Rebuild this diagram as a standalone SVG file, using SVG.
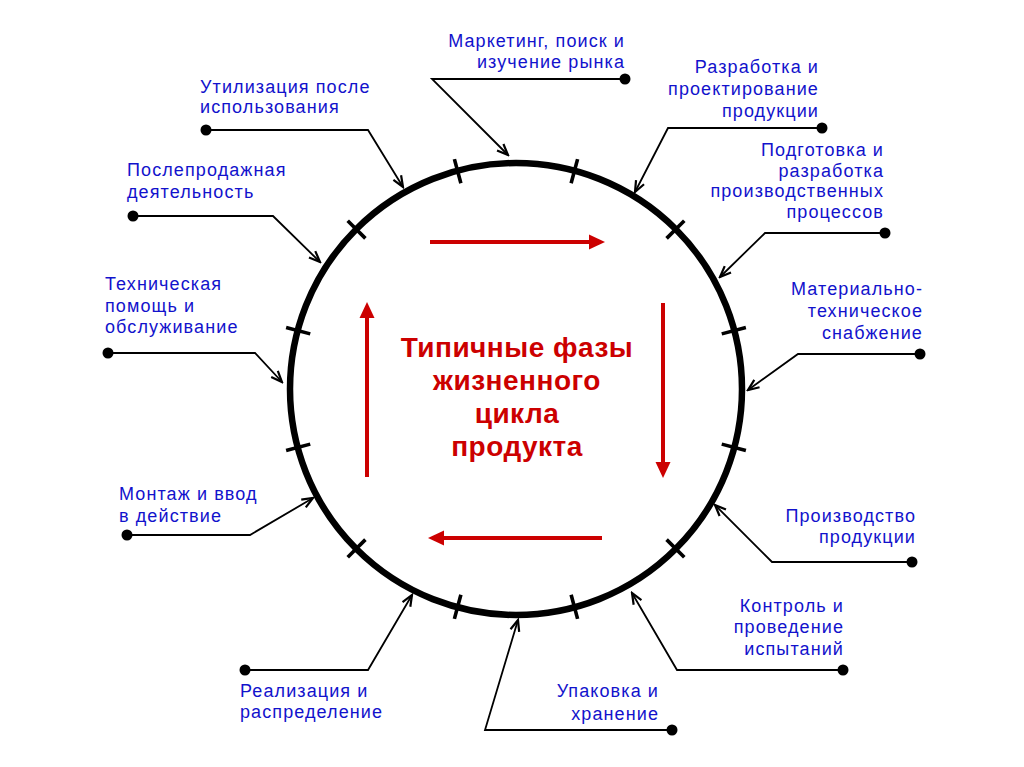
<svg xmlns="http://www.w3.org/2000/svg" width="1024" height="767" viewBox="0 0 1024 767">
<defs>
<style>
.lbl{font-family:"Liberation Sans",Arial,sans-serif;font-size:18px;fill:#1212cc;letter-spacing:1.1px}
.r{text-anchor:end}
.con{fill:none;stroke:#000;stroke-width:1.8;marker-end:url(#ah)}
.dot{fill:#000}
.tick{stroke:#000;stroke-width:3.6}
.title{font-family:"Liberation Sans",Arial,sans-serif;font-weight:bold;font-size:28px;fill:#cc0000;text-anchor:middle;letter-spacing:0.5px}
.red{stroke:#cc0000;stroke-width:4;fill:none}
</style>
<marker id="ah" markerWidth="14" markerHeight="12" refX="12" refY="6" orient="auto" markerUnits="userSpaceOnUse">
<path d="M1,1.5 L12,6 L1,10.5" fill="none" stroke="#000" stroke-width="2.2"/>
</marker>
</defs>
<rect width="1024" height="767" fill="#fff"/>

<g id="cycle">
<circle cx="516" cy="389" r="226" fill="none" stroke="#000" stroke-width="6.5"/>
<g id="ticks">
<line class="tick" x1="516" y1="151" x2="516" y2="176" transform="rotate(15 516 389)"/>
<line class="tick" x1="516" y1="151" x2="516" y2="176" transform="rotate(45 516 389)"/>
<line class="tick" x1="516" y1="151" x2="516" y2="176" transform="rotate(75 516 389)"/>
<line class="tick" x1="516" y1="151" x2="516" y2="176" transform="rotate(105 516 389)"/>
<line class="tick" x1="516" y1="151" x2="516" y2="176" transform="rotate(135 516 389)"/>
<line class="tick" x1="516" y1="151" x2="516" y2="176" transform="rotate(165 516 389)"/>
<line class="tick" x1="516" y1="151" x2="516" y2="176" transform="rotate(-15 516 389)"/>
<line class="tick" x1="516" y1="151" x2="516" y2="176" transform="rotate(-45 516 389)"/>
<line class="tick" x1="516" y1="151" x2="516" y2="176" transform="rotate(-75 516 389)"/>
<line class="tick" x1="516" y1="151" x2="516" y2="176" transform="rotate(-105 516 389)"/>
<line class="tick" x1="516" y1="151" x2="516" y2="176" transform="rotate(-135 516 389)"/>
<line class="tick" x1="516" y1="151" x2="516" y2="176" transform="rotate(-165 516 389)"/>
</g>
</g>

<g id="center">
<line class="red" x1="430" y1="242" x2="592" y2="242"/>
<polygon points="589,234.5 605,242 589,249.5" fill="#cc0000"/>
<line class="red" x1="663" y1="303" x2="663" y2="465"/>
<polygon points="655.5,462 663,478 670.5,462" fill="#cc0000"/>
<line class="red" x1="602" y1="538" x2="440" y2="538"/>
<polygon points="444,530.5 428,538 444,545.5" fill="#cc0000"/>
<line class="red" x1="367" y1="477" x2="367" y2="314"/>
<polygon points="359.5,318 367,302 374.5,318" fill="#cc0000"/>
<text class="title" x="517" y="357">Типичные фазы</text>
<text class="title" x="517" y="390">жизненного</text>
<text class="title" x="517" y="423">цикла</text>
<text class="title" x="517" y="456">продукта</text>
</g>

<g id="connectors">
<polyline class="con" points="625,79 432,79 508,155"/>
<polyline class="con" points="822,128 668,128 635,192"/>
<polyline class="con" points="885,233 765,233 720,277"/>
<polyline class="con" points="920,354 798,354 748,390"/>
<polyline class="con" points="912,562 772,562 715,505"/>
<polyline class="con" points="843,670 677,670 632,593"/>
<polyline class="con" points="672,730 485,730 518,620"/>
<polyline class="con" points="245,670 368,670 412,595"/>
<polyline class="con" points="127,535 250,535 313,498"/>
<polyline class="con" points="108,353 255,353 282,382"/>
<polyline class="con" points="133,216 273,216 320,262"/>
<polyline class="con" points="206,130 368,130 403,187"/>
<g id="dots">
<circle class="dot" cx="625" cy="79" r="5.5"/>
<circle class="dot" cx="822" cy="128" r="5.5"/>
<circle class="dot" cx="885" cy="233" r="5.5"/>
<circle class="dot" cx="920" cy="354" r="5.5"/>
<circle class="dot" cx="912" cy="562" r="5.5"/>
<circle class="dot" cx="843" cy="670" r="5.5"/>
<circle class="dot" cx="672" cy="730" r="5.5"/>
<circle class="dot" cx="245" cy="670" r="5.5"/>
<circle class="dot" cx="127" cy="535" r="5.5"/>
<circle class="dot" cx="108" cy="353" r="5.5"/>
<circle class="dot" cx="133" cy="216" r="5.5"/>
<circle class="dot" cx="206" cy="130" r="5.5"/>
</g>
</g>

<g id="n1"><text class="lbl r" x="625" y="47">Маркетинг, поиск и</text><text class="lbl r" x="625" y="68">изучение рынка</text></g>
<g id="n2"><text class="lbl r" x="819" y="73">Разработка и</text><text class="lbl r" x="819" y="95">проектирование</text><text class="lbl r" x="819" y="117">продукции</text></g>
<g id="n3"><text class="lbl r" x="884" y="156">Подготовка и</text><text class="lbl r" x="884" y="177">разработка</text><text class="lbl r" x="884" y="197">производственных</text><text class="lbl r" x="884" y="218">процессов</text></g>
<g id="n4"><text class="lbl r" x="923" y="295">Материально-</text><text class="lbl r" x="923" y="317">техническое</text><text class="lbl r" x="923" y="339">снабжение</text></g>
<g id="n5"><text class="lbl r" x="916" y="522">Производство</text><text class="lbl r" x="916" y="543">продукции</text></g>
<g id="n6"><text class="lbl r" x="844" y="612">Контроль и</text><text class="lbl r" x="844" y="633">проведение</text><text class="lbl r" x="844" y="655">испытаний</text></g>
<g id="n7"><text class="lbl r" x="659" y="697">Упаковка и</text><text class="lbl r" x="659" y="720">хранение</text></g>
<g id="n8"><text class="lbl" x="240" y="697">Реализация и</text><text class="lbl" x="240" y="718">распределение</text></g>
<g id="n9"><text class="lbl" x="119" y="500">Монтаж и ввод</text><text class="lbl" x="119" y="522">в действие</text></g>
<g id="n10"><text class="lbl" x="105" y="290">Техническая</text><text class="lbl" x="105" y="312">помощь и</text><text class="lbl" x="105" y="333">обслуживание</text></g>
<g id="n11"><text class="lbl" x="127" y="176">Послепродажная</text><text class="lbl" x="127" y="198">деятельность</text></g>
<g id="n12"><text class="lbl" x="200" y="93">Утилизация после</text><text class="lbl" x="200" y="113">использования</text></g>
</svg>
